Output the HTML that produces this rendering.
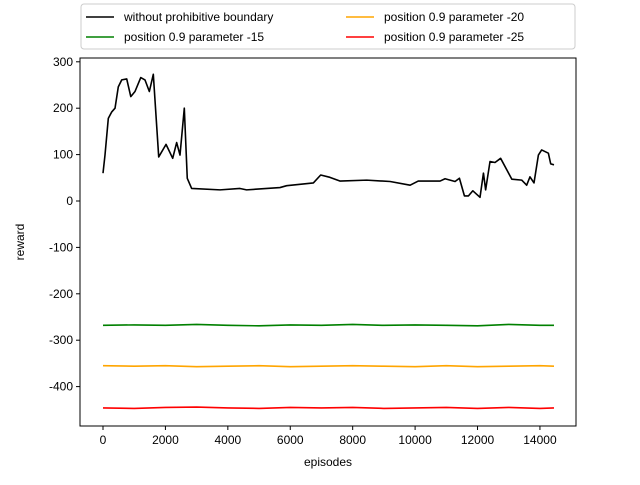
<!DOCTYPE html>
<html><head><meta charset="utf-8"><style>
body{margin:0;background:#fff}
svg text{font-family:"Liberation Sans","DejaVu Sans",sans-serif;font-size:12px;fill:#000}
</style></head><body>
<svg id="chart" width="640" height="480">
<g id="plot"></g>
</svg>
<script>
const blackEp=[0,64,170,280,385,490,600,760,890,1025,1210,1345,1485,1612,1785,2020,2233,2360,2467,2605,2700,2840,3750,4390,4600,5670,5885,6740,6975,7270,7590,8450,9200,9840,10100,10800,10960,11280,11420,11580,11710,11850,12080,12190,12260,12400,12560,12740,13100,13415,13575,13680,13810,13950,14055,14270,14345,14450];
const blackVal=[60,99,178,192,200,246,261,263,225,236,266,261,236,273,95,122,92,126,99,200,49,27,24,27,24,29,33,39,56,51,43,45,42,34,43,43,48,42,49,11,11,22,8,60,24,85,83,92,47,45,34,52,39,99,110,103,80,78];
const flatEp=[0,1000,2000,3000,4000,5000,6000,7000,8000,9000,10000,11000,12000,13000,14000,14450];
const greenVal=[-268,-267,-268,-266,-268,-269,-267,-268,-266,-268,-267,-268,-269,-266,-268,-268];
const orangeVal=[-355,-356,-355,-357,-356,-355,-357,-356,-355,-356,-357,-355,-357,-356,-355,-356];
const redVal=[-446,-447,-445,-444,-446,-447,-445,-446,-445,-447,-446,-445,-447,-445,-447,-446];
const xTicks=[0,2000,4000,6000,8000,10000,12000,14000];
const yTicks=[300,200,100,0,-100,-200,-300,-400];

const L=80,R=576,T=58,B=426;
const xs=v=>103+v*0.03121;
const ys=v=>201-v*0.464;
const NS='http://www.w3.org/2000/svg';
const g=document.getElementById('plot');
function mk(t,a,p){const e=document.createElementNS(NS,t);for(const k in a)e.setAttribute(k,a[k]);(p||g).appendChild(e);return e;}

xTicks.forEach(v=>{
  const x=xs(v);
  const tk=mk('line',{x1:x,x2:x,y1:B,y2:B+4,stroke:'#000'});
  
  
  const t=mk('text',{x:x,y:B+18,'text-anchor':'middle'});t.textContent=v;
  
  
});
yTicks.forEach(v=>{
  const y=ys(v);
  const tk=mk('line',{x1:L-4,x2:L,y1:y,y2:y,stroke:'#000'});
  
  
  const t=mk('text',{x:L-7,y:y+4,'text-anchor':'end'});t.textContent=v;
  
  
});
function series(ep,val,color,name){
  const p=mk('polyline',{points:ep.map((e,i)=>xs(e)+','+ys(val[i])).join(' '),fill:'none',stroke:color,'stroke-width':1.6,'stroke-linejoin':'round'});
  
  
}
series(blackEp,blackVal,'#000','line-without-boundary');
series(flatEp,greenVal,'green','line-param-15');
series(flatEp,orangeVal,'orange','line-param-20');
series(flatEp,redVal,'red','line-param-25');

const fr=mk('rect',{x:L,y:T,width:R-L,height:B-T,fill:'none',stroke:'#000','stroke-width':1});


const xl=mk('text',{x:(L+R)/2,y:466,'text-anchor':'middle'});xl.textContent='episodes';


const yl=mk('text',{x:24,y:(T+B)/2,'text-anchor':'middle',transform:'rotate(-90 24 '+(T+B)/2+')'});yl.textContent='reward';



const lg=mk('g',{});


mk('rect',{x:81,y:4,width:494,height:45,rx:3,fill:'#fff',stroke:'#ccc'},lg);
const entries=[['without prohibitive boundary','#000',86,17],['position 0.9 parameter -15','green',86,37],['position 0.9 parameter -20','orange',346,17],['position 0.9 parameter -25','red',346,37]];
entries.forEach(en=>{
  const eg=mk('g',{},lg);
  
  
  mk('line',{x1:en[2],x2:en[2]+28,y1:en[3],y2:en[3],stroke:en[1],'stroke-width':1.6},eg);
  const t=mk('text',{x:en[2]+38,y:en[3]+4},eg);t.textContent=en[0];
});
</script>
</body></html>
